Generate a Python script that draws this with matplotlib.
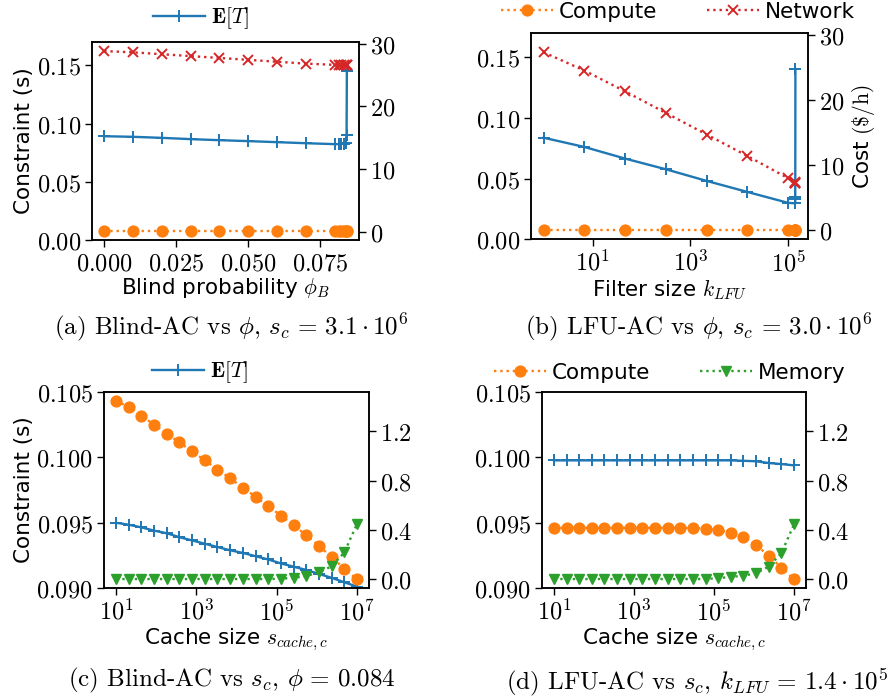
import math
import matplotlib
matplotlib.use('Agg')
import matplotlib.pyplot as plt
from matplotlib.ticker import FuncFormatter, FixedLocator, NullLocator

plt.rcParams['mathtext.fontset'] = 'cm'
plt.rcParams['font.family'] = ['DejaVu Sans']

C_BLUE, C_ORANGE, C_GREEN, C_RED = '#1f77b4', '#ff7f0e', '#2ca02c', '#d62728'

# ---- panel (a): Blind-AC vs phi ----
phi_a = [0.00, 0.01, 0.02, 0.03, 0.04, 0.05, 0.06, 0.07, 0.08,
         0.0815, 0.0823, 0.0831, 0.0838, 0.0841, 0.0842]
et_a = [0.0891, 0.0886, 0.0877, 0.0866, 0.0857, 0.0849, 0.0840, 0.0831, 0.0823,
        0.0823, 0.0825, 0.0828, 0.0835, 0.0900, 0.1449]
net_a = [28.8, 28.6, 28.3, 28.0, 27.7, 27.4, 27.1, 26.8, 26.6,
         26.55, 26.5, 26.5, 26.5, 26.5, 26.5]
comp_a = [0.15] * 15

# ---- panel (b): LFU-AC vs filter size ----
k_b = [1, 6.8, 46.4, 316, 2154, 14678, 100000, 139000, 139000, 139000, 140000]
et_b = [0.0837, 0.0761, 0.0665, 0.0577, 0.0481, 0.0390, 0.0300,
        0.0297, 0.0330, 0.0352, 0.1404]
net_b = [27.3, 24.5, 21.3, 18.0, 14.7, 11.4, 8.0, 7.4, 7.3, 7.3, 7.2]
comp_b = [0.15] * 11

# ---- panels (c), (d): cache size ----
s_cache = [10, 20.7, 42.8, 88.6, 183, 379, 785, 1624, 3360, 6952, 14384,
           29764, 61585, 127427, 263665, 545559, 1128838, 2335721, 4832930, 10000000]
et_c = [0.0950, 0.09485, 0.09465, 0.0944, 0.0942, 0.0939, 0.09365, 0.0934, 0.09315,
        0.0929, 0.0927, 0.09245, 0.0922, 0.0919, 0.09165, 0.0914, 0.0911, 0.0908,
        0.09046, 0.09013]
comp_c = [1.448, 1.394, 1.325, 1.253, 1.181, 1.109, 1.037, 0.965, 0.890, 0.818,
          0.744, 0.669, 0.594, 0.517, 0.440, 0.357, 0.272, 0.181, 0.088, 0.0]
mem_c = [0.003] * 13 + [0.006, 0.013, 0.027, 0.058, 0.106, 0.218, 0.448]

et_d = [0.09976] * 15 + [0.09973, 0.09969, 0.09956, 0.09948, 0.09938]
comp_d = [0.418] * 11 + [0.417, 0.412, 0.400, 0.378, 0.341, 0.277, 0.192, 0.096, 0.0]
mem_d = [0.003] * 13 + [0.01, 0.02, 0.03, 0.05, 0.104, 0.213, 0.445]

captions = [r"(a) Blind-AC vs $\phi$, $s_c \,=\, 3.1\cdot 10^6$",
            r"(b) LFU-AC vs $\phi$, $s_c \,=\, 3.0\cdot 10^6$",
            r"(c) Blind-AC vs $s_c$, $\phi \,=\, 0.084$",
            r"(d) LFU-AC vs $s_c$, $k_{LFU} \,=\, 1.4\cdot 10^5$"]

W, H = 891, 698
fig = plt.figure(figsize=(W / 100, H / 100), dpi=100)

def box(l, r, t, b):
    return [l / W, 1 - b / H, (r - l) / W, (b - t) / H]

ax_a = fig.add_axes(box(92, 359, 42, 240))
ax_b = fig.add_axes(box(531, 808, 33, 239.3))
ax_c = fig.add_axes(box(104, 369, 391.7, 588.3))
ax_d = fig.add_axes(box(542, 806, 391.7, 588.3))

TICK_FS = 17.5
LAB_FS = 15.5
CAP_FS = 18

def fmt(decimals):
    return FuncFormatter(lambda v, p: r"$%.*f$" % (decimals, v))

logfmt = FuncFormatter(lambda v, p: r"$10^{%d}$" % round(math.log10(v)))

lw = 1.7
et_kw = dict(color=C_BLUE, marker='+', ms=8.5, mew=1.4, lw=lw, label=r"$\mathbf{E}[T]$")
comp_kw = dict(color=C_ORANGE, marker='o', ms=7.8, ls=':', lw=lw, label='Compute')
net_kw = dict(color=C_RED, marker='x', ms=7, mew=1.4, ls=':', lw=lw, label='Network')
mem_kw = dict(color=C_GREEN, marker='v', ms=7.8, ls=':', lw=lw, label='Memory')

def style(ax):
    ax.tick_params(direction='out', length=5, width=1, labelsize=TICK_FS, pad=3)
    for s in ax.spines.values():
        s.set_linewidth(1.1)

twins = []
for ax, x, et, ya, yb, kwb, logx in [
        (ax_a, phi_a, et_a, comp_a, net_a, net_kw, False),
        (ax_b, k_b, et_b, comp_b, net_b, net_kw, True),
        (ax_c, s_cache, et_c, comp_c, mem_c, mem_kw, True),
        (ax_d, s_cache, et_d, comp_d, mem_d, mem_kw, True)]:
    ax.plot(x, et, **et_kw)
    t = ax.twinx()
    t.plot(x, ya, **comp_kw)
    t.plot(x, yb, **kwb)
    twins.append(t)
    if logx:
        ax.set_xscale('log')
    style(ax)
    style(t)

ta, tb, tc, td = twins

for ax in (ax_a, ax_b):
    ax.set_ylim(0, 0.17)
    ax.yaxis.set_major_locator(FixedLocator([0, 0.05, 0.10, 0.15]))
    ax.yaxis.set_major_formatter(fmt(2))
for t in (ta, tb):
    t.set_ylim(-1.35, 30.25)
    t.yaxis.set_major_locator(FixedLocator([0, 10, 20, 30]))
    t.yaxis.set_major_formatter(fmt(0))
for ax in (ax_c, ax_d):
    ax.set_ylim(0.090, 0.105)
    ax.yaxis.set_major_locator(FixedLocator([0.090, 0.095, 0.100, 0.105]))
    ax.yaxis.set_major_formatter(fmt(3))
for t in (tc, td):
    t.set_ylim(-0.072, 1.52)
    t.yaxis.set_major_locator(FixedLocator([0.0, 0.4, 0.8, 1.2]))
    t.yaxis.set_major_formatter(fmt(1))

ax_a.xaxis.set_major_locator(FixedLocator([0.0, 0.025, 0.05, 0.075]))
ax_a.xaxis.set_major_formatter(fmt(3))
ax_b.xaxis.set_major_locator(FixedLocator([10, 1000, 100000]))
for ax in (ax_c, ax_d):
    ax.xaxis.set_major_locator(FixedLocator([10, 1000, 100000, 10000000]))
for ax in (ax_b, ax_c, ax_d):
    ax.xaxis.set_minor_locator(NullLocator())
    ax.xaxis.set_major_formatter(logfmt)

ax_a.set_xlabel(r"Blind probability $\phi_B$", fontsize=LAB_FS, labelpad=1)
ax_b.set_xlabel(r"Filter size $k_{LFU}$", fontsize=LAB_FS, labelpad=1)
ax_c.set_xlabel(r"Cache size $s_{cache,c}$", fontsize=LAB_FS, labelpad=1)
ax_d.set_xlabel(r"Cache size $s_{cache,c}$", fontsize=LAB_FS, labelpad=1)
ax_a.set_ylabel("Constraint (s)", fontsize=LAB_FS, labelpad=2)
ax_c.set_ylabel("Constraint (s)", fontsize=LAB_FS, labelpad=2)
tb.set_ylabel(r"Cost $(\$/\mathrm{h})$", fontsize=LAB_FS)

leg_kw = dict(frameon=False, fontsize=LAB_FS, handlelength=2.4, handletextpad=0.3,
              columnspacing=2.3, borderpad=0, borderaxespad=0, loc='center')
h_a, l_a = ax_a.get_legend_handles_labels()
fig.legend(h_a, l_a, bbox_to_anchor=(201 / W, 1 - 18.3 / H), **leg_kw)
h_b, l_b = tb.get_legend_handles_labels()
fig.legend(h_b, l_b, ncol=2, bbox_to_anchor=(678 / W, 1 - 11.7 / H), **leg_kw)
h_c, l_c = ax_c.get_legend_handles_labels()
fig.legend(h_c, l_c, bbox_to_anchor=(200 / W, 1 - 372.3 / H), **leg_kw)
h_d, l_d = td.get_legend_handles_labels()
fig.legend(h_d, l_d, ncol=2, bbox_to_anchor=(670 / W, 1 - 372.7 / H), **leg_kw)

cap_pos = [(231.7, 327), (699, 327), (231.7, 680), (697, 681.7)]
for (cx, cy), cap in zip(cap_pos, captions):
    fig.text(cx / W, 1 - cy / H, cap, ha='center', va='center',
             fontsize=CAP_FS, family='cmr10')

fig.savefig('out.png', dpi=100)
